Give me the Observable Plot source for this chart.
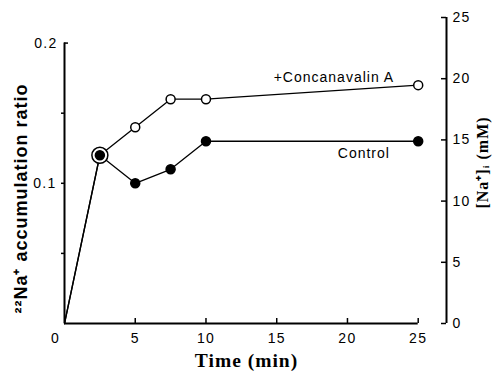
<!DOCTYPE html>
<html>
<head>
<meta charset="utf-8">
<script src="https://cdn.jsdelivr.net/npm/d3@7"></script>
<script src="https://cdn.jsdelivr.net/npm/@observablehq/plot@0.6"></script>
<style>
  html, body { margin: 0; padding: 0; background: #fff; }
  svg { display: block; }
  svg text { letter-spacing: 1px; }
  g[aria-label="ticklabel"] text, g[aria-label="y-axis tick label"] text, g[aria-label="x-axis tick label"] text { letter-spacing: 1.3px; }
  g[aria-label="title-serif"] text { letter-spacing: 0; }
  g[aria-label="title-sans"] text { letter-spacing: 0.6px; }
</style>
</head>
<body>
<script>
// ---- data ----
const times = [0, 2.5, 5, 7.5, 10, 25];
const controlRatio = [0, 0.12, 0.10, 0.11, 0.13, 0.13];
const conARatio = [0, 0.12, 0.14, 0.16, 0.16, 0.17];
const xTicks = [5, 10, 15, 20, 25];
const leftMinorTicks = [0.05, 0.1, 0.15];
const leftTickLabels = {0.1: "0.1", 0.2: "0.2"};
const leftTop = 0.2;
const rightTicksMM = [0, 5, 10, 15, 20, 25];
const ratioPerMM = 0.00873;   // 1 mM of [Na+]i on the ratio scale
const xAxisEnd = 25;
const rightAxisAt = 27;       // x-position of the right-hand axis
const labelConA = "+Concanavalin A";
const labelControl = "Control";
const xTitle = "Time (min)";
const yTitle = "\u00B2\u00B2Na\u207A accumulation ratio";
const y2Title = "[Na\u207A]\u1D62 (mM)";

const control = times.map((t, i) => ({t, v: controlRatio[i]}));
const conA = times.map((t, i) => ({t, v: conARatio[i]}));
const rightTicks = rightTicksMM.map(m => m * ratioPerMM);

const W = 494, H = 371, mL = 64, mR = 48, mT = 17, mB = 48;
const frameW = W - mL - mR, frameH = H - mT - mB;
const serif = "'Liberation Serif', 'Times New Roman', serif";

const chart = Plot.plot({
  width: W, height: H,
  marginLeft: mL, marginRight: mR, marginTop: mT, marginBottom: mB,
  style: {fontFamily: "'Liberation Sans', Arial, sans-serif", fontSize: "14px", background: "white", color: "black"},
  x: {domain: [0, rightAxisAt], axis: null},
  y: {domain: [0, d3.max(rightTicksMM) * ratioPerMM], axis: null},
  marks: [
    // axis lines
    Plot.ruleY([0], {x1: 0, x2: xAxisEnd, strokeWidth: 2, stroke: "black"}),
    Plot.ruleX([0], {y1: 0, y2: leftTop, strokeWidth: 2, stroke: "black"}),
    Plot.ruleX([rightAxisAt], {y1: 0, y2: d3.max(rightTicks), strokeWidth: 2, stroke: "black"}),
    // x ticks (inward)
    Plot.tickX(xTicks, {x: d => d, insetTop: frameH - 5, strokeWidth: 1.5, stroke: "black"}),
    Plot.axisX(xTicks, {tickSize: 0, tickPadding: 10, fontSize: 14, label: null}),
    Plot.text([0], {x: d => d, y: 0, text: d => String(d), dx: -9, dy: 15, fontSize: 14, ariaLabel: "ticklabel"}),
    // left axis
    Plot.axisY(leftMinorTicks, {anchor: "left", tickSize: 3, tickPadding: 5, strokeWidth: 1.5,
      tickFormat: d => leftTickLabels[d] || "", fontSize: 14, label: null}),
    Plot.axisY([leftTop], {anchor: "left", tickSize: 0, tickPadding: 7, tickFormat: d => leftTickLabels[d], fontSize: 14, label: null}),
    Plot.tickY([leftTop], {y: d => d, insetRight: frameW - 4, strokeWidth: 1.5, stroke: "black"}),
    // right axis
    Plot.tickY(rightTicks, {y: d => d, insetLeft: frameW - 5, strokeWidth: 1.5, stroke: "black"}),
    Plot.axisY(rightTicks, {anchor: "right", tickSize: 0, tickPadding: 6, label: null,
      tickFormat: d => String(Math.round(d / ratioPerMM)), fontSize: 14}),
    // series lines
    Plot.line(control, {x: "t", y: "v", stroke: "black", strokeWidth: 1.3}),
    Plot.line(conA, {x: "t", y: "v", stroke: "black", strokeWidth: 1.3}),
    // markers
    Plot.dot(conA.slice(2), {x: "t", y: "v", r: 4.5, fill: "white", stroke: "black", strokeWidth: 1.5}),
    Plot.dot(conA.slice(1, 2), {x: "t", y: "v", r: 8, fill: "white", stroke: "black", strokeWidth: 1.5}),
    Plot.dot(control.slice(1), {x: "t", y: "v", r: 4.5, fill: "black", stroke: "black"}),
    // annotations
    Plot.text([labelConA], {x: 23.3, y: 0.1755, text: d => d, textAnchor: "end", fontSize: 14}),
    Plot.text([labelControl], {x: 23.0, y: 0.1213, text: d => d, textAnchor: "end", fontSize: 14}),
    // titles
    Plot.text([xTitle], {frameAnchor: "bottom", text: d => d, dx: -9, dy: 37, textAnchor: "middle", lineAnchor: "middle",
      fontFamily: serif, fontSize: 19.5, fontWeight: "bold", fill: "black", ariaLabel: "title-serif"}),
    Plot.text([yTitle], {frameAnchor: "left", text: d => d, dx: -43, dy: 28, rotate: -90, textAnchor: "middle", lineAnchor: "middle",
      fontSize: 18, fontWeight: "bold", fill: "black", ariaLabel: "title-sans"}),
    Plot.text([y2Title], {frameAnchor: "right", text: d => d, dx: 36, dy: -8, rotate: -90, textAnchor: "middle", lineAnchor: "middle",
      fontFamily: serif, fontSize: 16, fontWeight: "bold", fill: "black", ariaLabel: "title-serif"})
  ]
});
document.body.appendChild(chart);
</script>
</body>
</html>
